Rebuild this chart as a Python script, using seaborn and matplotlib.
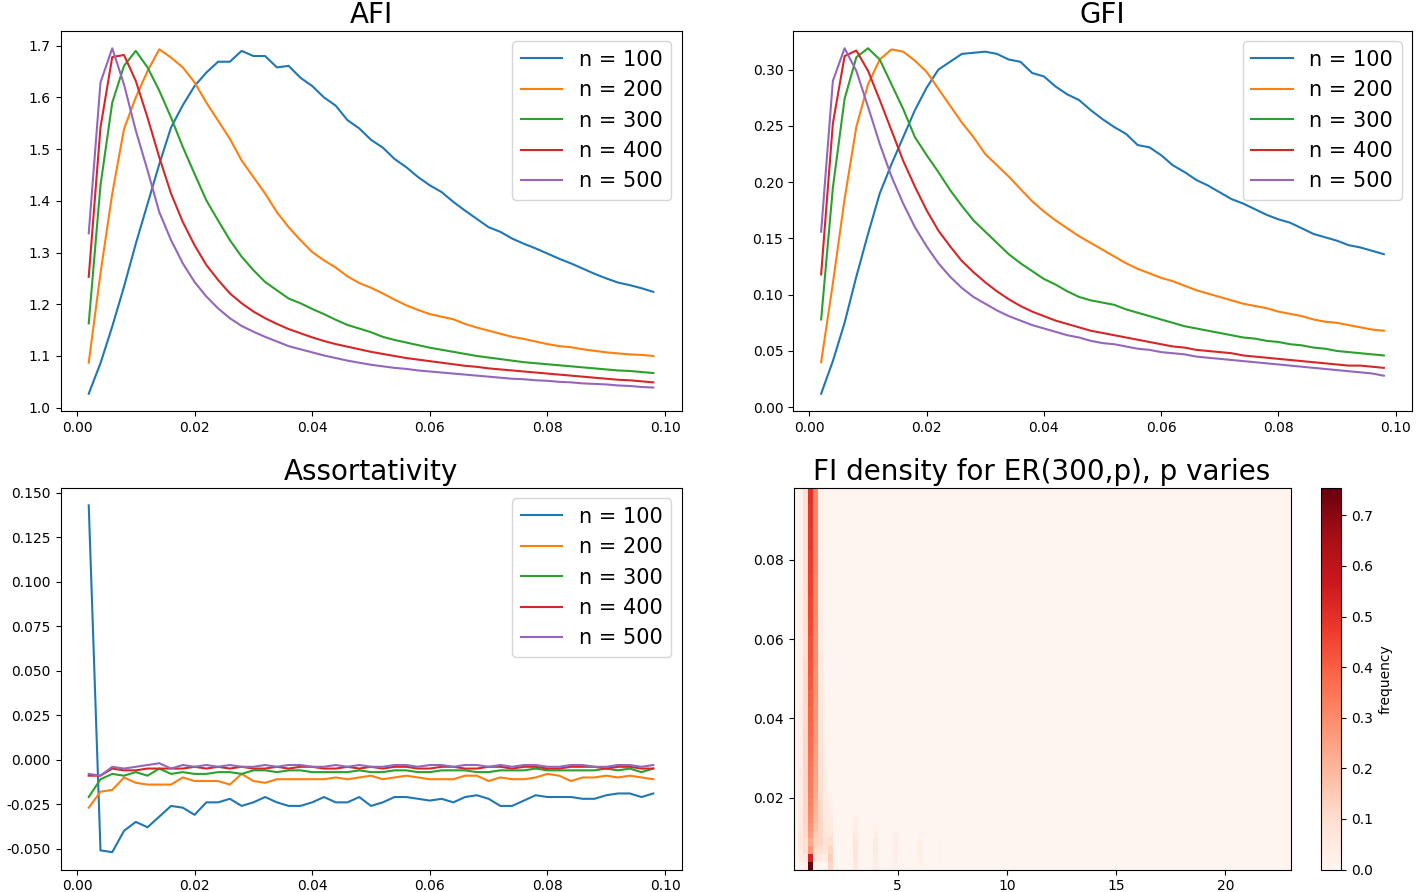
import numpy as np
import pandas as pd
import matplotlib
matplotlib.use('Agg')
import matplotlib.pyplot as plt
import seaborn as sns

plt.rcParams['axes.unicode_minus'] = False

# edge probability p (x axis of the three line charts)
p_values = [0.002, 0.004, 0.006, 0.008, 0.010, 0.012, 0.014, 0.016, 0.018, 0.020,
            0.022, 0.024, 0.026, 0.028, 0.030, 0.032, 0.034, 0.036, 0.038, 0.040,
            0.042, 0.044, 0.046, 0.048, 0.050, 0.052, 0.054, 0.056, 0.058, 0.060,
            0.062, 0.064, 0.066, 0.068, 0.070, 0.072, 0.074, 0.076, 0.078, 0.080,
            0.082, 0.084, 0.086, 0.088, 0.090, 0.092, 0.094, 0.096, 0.098]
n_values = [100, 200, 300, 400, 500]

# AFI
afi_100 = [1.027, 1.086, 1.157, 1.234, 1.317, 1.394, 1.471, 1.542, 1.585, 1.622,
           1.648, 1.669, 1.669, 1.690, 1.680, 1.680, 1.658, 1.661, 1.638, 1.622,
           1.600, 1.584, 1.556, 1.540, 1.518, 1.503, 1.481, 1.465, 1.446, 1.430,
           1.417, 1.398, 1.381, 1.365, 1.349, 1.340, 1.327, 1.317, 1.308, 1.298,
           1.288, 1.279, 1.269, 1.259, 1.250, 1.242, 1.237, 1.231, 1.224]
afi_200 = [1.087, 1.260, 1.414, 1.539, 1.600, 1.651, 1.693, 1.677, 1.658, 1.629,
           1.590, 1.555, 1.520, 1.478, 1.446, 1.414, 1.378, 1.349, 1.324, 1.301,
           1.285, 1.271, 1.254, 1.241, 1.232, 1.221, 1.209, 1.198, 1.189, 1.181,
           1.176, 1.171, 1.162, 1.155, 1.149, 1.143, 1.137, 1.133, 1.128, 1.123,
           1.119, 1.117, 1.113, 1.110, 1.107, 1.105, 1.103, 1.102, 1.100]
afi_300 = [1.163, 1.430, 1.590, 1.661, 1.690, 1.658, 1.613, 1.561, 1.504, 1.452,
           1.401, 1.362, 1.324, 1.292, 1.266, 1.243, 1.227, 1.211, 1.202, 1.191,
           1.181, 1.170, 1.160, 1.153, 1.146, 1.137, 1.131, 1.126, 1.121, 1.116,
           1.112, 1.108, 1.104, 1.100, 1.097, 1.094, 1.091, 1.088, 1.086, 1.084,
           1.082, 1.080, 1.078, 1.076, 1.074, 1.072, 1.071, 1.069, 1.067]
afi_400 = [1.253, 1.542, 1.678, 1.682, 1.632, 1.561, 1.484, 1.414, 1.359, 1.314,
           1.276, 1.247, 1.221, 1.202, 1.186, 1.173, 1.162, 1.152, 1.144, 1.136,
           1.129, 1.123, 1.118, 1.113, 1.108, 1.104, 1.100, 1.096, 1.093, 1.090,
           1.087, 1.084, 1.081, 1.079, 1.076, 1.074, 1.072, 1.070, 1.068, 1.066,
           1.064, 1.062, 1.060, 1.058, 1.056, 1.054, 1.053, 1.051, 1.049]
afi_500 = [1.337, 1.629, 1.695, 1.625, 1.536, 1.459, 1.378, 1.324, 1.279, 1.243,
           1.215, 1.192, 1.173, 1.158, 1.147, 1.137, 1.128, 1.119, 1.113, 1.107,
           1.101, 1.096, 1.091, 1.087, 1.083, 1.080, 1.077, 1.075, 1.072, 1.070,
           1.068, 1.066, 1.064, 1.062, 1.060, 1.058, 1.056, 1.055, 1.053, 1.052,
           1.050, 1.049, 1.047, 1.046, 1.045, 1.043, 1.042, 1.040, 1.039]

# GFI
gfi_100 = [0.012, 0.041, 0.075, 0.116, 0.154, 0.190, 0.216, 0.240, 0.264, 0.284,
           0.300, 0.307, 0.314, 0.315, 0.316, 0.314, 0.309, 0.307, 0.297, 0.294,
           0.285, 0.278, 0.273, 0.264, 0.256, 0.249, 0.243, 0.233, 0.231, 0.224,
           0.215, 0.209, 0.202, 0.197, 0.191, 0.185, 0.181, 0.176, 0.171, 0.167,
           0.164, 0.159, 0.154, 0.151, 0.148, 0.144, 0.142, 0.139, 0.136]
gfi_200 = [0.040, 0.110, 0.185, 0.249, 0.287, 0.309, 0.318, 0.316, 0.308, 0.298,
           0.283, 0.268, 0.253, 0.240, 0.225, 0.215, 0.205, 0.194, 0.183, 0.174,
           0.166, 0.159, 0.152, 0.146, 0.140, 0.134, 0.128, 0.123, 0.119, 0.115,
           0.112, 0.108, 0.104, 0.101, 0.098, 0.095, 0.092, 0.090, 0.088, 0.085,
           0.083, 0.081, 0.078, 0.076, 0.075, 0.073, 0.071, 0.069, 0.068]
gfi_300 = [0.078, 0.195, 0.274, 0.311, 0.319, 0.309, 0.287, 0.265, 0.240, 0.224,
           0.209, 0.193, 0.179, 0.166, 0.156, 0.146, 0.136, 0.128, 0.121, 0.114,
           0.109, 0.103, 0.098, 0.095, 0.093, 0.091, 0.087, 0.084, 0.081, 0.078,
           0.075, 0.072, 0.070, 0.068, 0.066, 0.064, 0.062, 0.061, 0.059, 0.058,
           0.056, 0.055, 0.053, 0.052, 0.050, 0.049, 0.048, 0.047, 0.046]
gfi_400 = [0.118, 0.252, 0.312, 0.317, 0.299, 0.273, 0.246, 0.219, 0.196, 0.175,
           0.157, 0.143, 0.130, 0.120, 0.111, 0.103, 0.096, 0.090, 0.085, 0.081,
           0.077, 0.074, 0.071, 0.068, 0.066, 0.064, 0.062, 0.060, 0.058, 0.056,
           0.054, 0.053, 0.051, 0.050, 0.049, 0.048, 0.046, 0.045, 0.044, 0.043,
           0.042, 0.041, 0.040, 0.039, 0.038, 0.037, 0.037, 0.036, 0.035]
gfi_500 = [0.156, 0.290, 0.319, 0.299, 0.267, 0.234, 0.205, 0.181, 0.160, 0.143,
           0.128, 0.116, 0.106, 0.098, 0.092, 0.086, 0.081, 0.077, 0.073, 0.070,
           0.067, 0.064, 0.062, 0.059, 0.057, 0.056, 0.054, 0.052, 0.051, 0.049,
           0.048, 0.047, 0.045, 0.044, 0.043, 0.042, 0.041, 0.040, 0.039, 0.038,
           0.037, 0.036, 0.035, 0.034, 0.033, 0.032, 0.031, 0.030, 0.028]

# Assortativity
assort_100 = [0.143, -0.051, -0.052, -0.040, -0.035, -0.038, -0.032, -0.026, -0.027, -0.031,
              -0.024, -0.024, -0.022, -0.026, -0.024, -0.021, -0.024, -0.026, -0.026, -0.024,
              -0.021, -0.024, -0.024, -0.021, -0.026, -0.024, -0.021, -0.021, -0.022, -0.023,
              -0.022, -0.024, -0.021, -0.020, -0.022, -0.026, -0.026, -0.023, -0.020, -0.021,
              -0.021, -0.021, -0.022, -0.022, -0.020, -0.019, -0.019, -0.021, -0.019]
assort_200 = [-0.027, -0.018, -0.017, -0.010, -0.013, -0.014, -0.014, -0.014, -0.010, -0.012,
              -0.012, -0.012, -0.014, -0.008, -0.012, -0.013, -0.011, -0.011, -0.011, -0.011,
              -0.011, -0.010, -0.011, -0.010, -0.009, -0.011, -0.010, -0.009, -0.010, -0.011,
              -0.011, -0.011, -0.009, -0.009, -0.012, -0.010, -0.011, -0.011, -0.010, -0.008,
              -0.009, -0.012, -0.010, -0.010, -0.009, -0.010, -0.009, -0.010, -0.011]
assort_300 = [-0.021, -0.011, -0.008, -0.009, -0.007, -0.009, -0.005, -0.008, -0.007, -0.008,
              -0.008, -0.007, -0.007, -0.008, -0.006, -0.006, -0.007, -0.006, -0.006, -0.007,
              -0.007, -0.007, -0.007, -0.006, -0.007, -0.007, -0.006, -0.006, -0.007, -0.007,
              -0.006, -0.006, -0.006, -0.007, -0.007, -0.006, -0.006, -0.006, -0.005, -0.006,
              -0.006, -0.006, -0.006, -0.006, -0.005, -0.006, -0.005, -0.007, -0.005]
assort_400 = [-0.009, -0.009, -0.005, -0.006, -0.006, -0.005, -0.005, -0.005, -0.005, -0.004,
              -0.005, -0.004, -0.005, -0.004, -0.005, -0.005, -0.004, -0.005, -0.004, -0.004,
              -0.005, -0.005, -0.004, -0.005, -0.004, -0.005, -0.004, -0.004, -0.005, -0.005,
              -0.004, -0.004, -0.005, -0.005, -0.004, -0.004, -0.005, -0.004, -0.004, -0.005,
              -0.005, -0.004, -0.004, -0.004, -0.005, -0.004, -0.004, -0.005, -0.005]
assort_500 = [-0.008, -0.009, -0.004, -0.005, -0.004, -0.003, -0.002, -0.005, -0.003, -0.004,
              -0.003, -0.004, -0.003, -0.004, -0.004, -0.003, -0.004, -0.003, -0.003, -0.004,
              -0.004, -0.003, -0.004, -0.003, -0.004, -0.004, -0.003, -0.003, -0.004, -0.003,
              -0.003, -0.004, -0.003, -0.003, -0.004, -0.003, -0.004, -0.003, -0.003, -0.004,
              -0.004, -0.003, -0.003, -0.004, -0.004, -0.003, -0.003, -0.004, -0.003]

# FI density for ER(300, p): histogram of FI values, 100 bins over [fi_min, fi_max]
fi_min, fi_max, fi_bins = 0.23, 22.98, 100
p_min, p_max = 0.002, 0.098
# frequency per p (rows, p = 0.002 ... 0.098) for the bins near FI = 1
freq_fi_057 = [0.01, 0.03, 0.05, 0.06, 0.06, 0.05, 0.05, 0.05, 0.04, 0.04,
               0.04, 0.04, 0.04, 0.03, 0.03, 0.03, 0.03, 0.03, 0.03, 0.03,
               0.03, 0.02, 0.02, 0.02, 0.02, 0.02, 0.02, 0.02, 0.02, 0.02,
               0.02, 0.02, 0.02, 0.02, 0.02, 0.02, 0.01, 0.01, 0.01, 0.01,
               0.01, 0.01, 0.01, 0.01, 0.01, 0.01, 0.01, 0.01, 0.01]
freq_fi_080 = [0.02, 0.05, 0.09, 0.10, 0.11, 0.11, 0.12, 0.12, 0.12, 0.12,
               0.12, 0.12, 0.12, 0.12, 0.12, 0.12, 0.12, 0.12, 0.11, 0.11,
               0.11, 0.11, 0.11, 0.11, 0.11, 0.11, 0.11, 0.10, 0.10, 0.10,
               0.10, 0.10, 0.10, 0.10, 0.10, 0.10, 0.10, 0.10, 0.09, 0.09,
               0.09, 0.09, 0.09, 0.09, 0.09, 0.09, 0.09, 0.09, 0.09]
freq_fi_103 = [0.754, 0.54, 0.27, 0.23, 0.26, 0.28, 0.30, 0.31, 0.32, 0.33,
               0.34, 0.34, 0.35, 0.35, 0.36, 0.37, 0.37, 0.38, 0.38, 0.39,
               0.39, 0.40, 0.40, 0.41, 0.41, 0.42, 0.42, 0.43, 0.43, 0.43,
               0.44, 0.44, 0.45, 0.45, 0.45, 0.46, 0.46, 0.46, 0.47, 0.47,
               0.47, 0.48, 0.48, 0.48, 0.49, 0.49, 0.49, 0.50, 0.50]
freq_fi_125 = [0.00, 0.07, 0.11, 0.13, 0.15, 0.17, 0.19, 0.20, 0.21, 0.22,
               0.23, 0.23, 0.24, 0.24, 0.25, 0.25, 0.26, 0.26, 0.26, 0.27,
               0.27, 0.27, 0.28, 0.28, 0.28, 0.28, 0.29, 0.29, 0.29, 0.29,
               0.29, 0.30, 0.30, 0.30, 0.30, 0.30, 0.30, 0.30, 0.31, 0.31,
               0.31, 0.31, 0.31, 0.31, 0.31, 0.31, 0.31, 0.31, 0.31]
freq_fi_148 = [0.00, 0.05, 0.10, 0.12, 0.12, 0.12, 0.12, 0.11, 0.11, 0.10,
               0.10, 0.10, 0.09, 0.09, 0.09, 0.08, 0.08, 0.08, 0.07, 0.07,
               0.07, 0.06, 0.06, 0.06, 0.05, 0.05, 0.05, 0.05, 0.04, 0.04,
               0.04, 0.04, 0.04, 0.03, 0.03, 0.03, 0.03, 0.03, 0.03, 0.03,
               0.02, 0.02, 0.02, 0.02, 0.02, 0.02, 0.02, 0.02, 0.02]
freq_fi_171 = [0.00, 0.03, 0.07, 0.08, 0.07, 0.06, 0.05, 0.05, 0.04, 0.04,
               0.03, 0.03, 0.03, 0.02, 0.02, 0.02, 0.02, 0.01, 0.01, 0.01,
               0.01, 0.01, 0.01, 0.01, 0.00, 0.00, 0.00, 0.00, 0.00, 0.00,
               0.00, 0.00, 0.00, 0.00, 0.00, 0.00, 0.00, 0.00, 0.00, 0.00,
               0.00, 0.00, 0.00, 0.00, 0.00, 0.00, 0.00, 0.00, 0.00]
# integer FI bands that only show up for the sparsest graphs (lowest p rows)
band_fi_2 = [0.12, 0.14, 0.12, 0.10, 0.07, 0.05, 0.04, 0.03, 0.02, 0.01]
band_fi_3 = [0.05, 0.07, 0.08, 0.07, 0.05, 0.03, 0.02]
band_fi_4 = [0.03, 0.04, 0.05, 0.05, 0.03, 0.02]
band_fi_5 = [0.02, 0.03, 0.04, 0.03, 0.02]
band_fi_6 = [0.01, 0.02, 0.02, 0.02, 0.01]
band_fi_7 = [0.00, 0.01, 0.01, 0.01]


def fi_bin(v):
    return int((v - fi_min) / ((fi_max - fi_min) / fi_bins))


# build the density table
density = np.zeros((len(p_values), fi_bins))
for fi, col in [(0.57, freq_fi_057), (0.80, freq_fi_080), (1.03, freq_fi_103),
                (1.25, freq_fi_125), (1.48, freq_fi_148), (1.71, freq_fi_171)]:
    density[:, fi_bin(fi)] = col
for fi, band in [(2, band_fi_2), (3, band_fi_3), (4, band_fi_4),
                 (5, band_fi_5), (6, band_fi_6), (7, band_fi_7)]:
    density[:len(band), fi_bin(fi)] += band

# long form data for the line charts
series = {'AFI': [afi_100, afi_200, afi_300, afi_400, afi_500],
          'GFI': [gfi_100, gfi_200, gfi_300, gfi_400, gfi_500],
          'Assortativity': [assort_100, assort_200, assort_300, assort_400, assort_500]}
rows = []
for metric, lists in series.items():
    for n, vals in zip(n_values, lists):
        for p, v in zip(p_values, vals):
            rows.append({'metric': metric, 'label': f'n = {n}', 'p': p, 'value': v})
df = pd.DataFrame(rows)

fig = plt.figure(figsize=(14.16, 8.92), dpi=100)
W, H = 1416, 892


def box(x0, y0, x1, y1):
    return [x0 / W, 1 - y1 / H, (x1 - x0) / W, (y1 - y0) / H]


ax_afi = fig.add_axes(box(60.5, 31, 681.5, 411))
ax_gfi = fig.add_axes(box(793, 31, 1412, 411))
ax_as = fig.add_axes(box(60.5, 488, 681.5, 869.5))
ax_hm = fig.add_axes(box(793.5, 488, 1290.5, 869.5))
cax = fig.add_axes(box(1321, 488, 1341, 869.5))

palette = sns.color_palette('tab10', 5)
for ax, metric in [(ax_afi, 'AFI'), (ax_gfi, 'GFI'), (ax_as, 'Assortativity')]:
    sns.lineplot(data=df[df['metric'] == metric], x='p', y='value', hue='label',
                 palette=palette, estimator=None, linewidth=1.5, ax=ax)
    ax.set_xlabel('')
    ax.set_ylabel('')
    ax.set_title(metric, fontsize=20)
    ax.set_xticks([0.0, 0.02, 0.04, 0.06, 0.08, 0.10])
    ax.tick_params(labelsize=10)
    ax.legend(loc='upper right', fontsize=15)

# heatmap
sns.heatmap(density, cmap='Reds', vmin=0, vmax=density.max(), ax=ax_hm, cbar_ax=cax,
            cbar_kws={'label': 'frequency'}, xticklabels=False, yticklabels=False)
ax_hm.invert_yaxis()
for s in ax_hm.spines.values():
    s.set_visible(True)
    s.set_linewidth(0.8)
bin_w = (fi_max - fi_min) / fi_bins
row_h = (p_max - p_min) / len(p_values)
fi_ticks = [5, 10, 15, 20]
p_ticks = [0.02, 0.04, 0.06, 0.08]
ax_hm.set_xticks([(v - fi_min) / bin_w for v in fi_ticks])
ax_hm.set_xticklabels([str(v) for v in fi_ticks], rotation=0)
ax_hm.set_yticks([(v - p_min) / row_h for v in p_ticks])
ax_hm.set_yticklabels([f'{v:.2f}' for v in p_ticks], rotation=0)
ax_hm.tick_params(labelsize=10, length=3.5, width=0.8)
ax_hm.set_title('FI density for ER(300,p), p varies', fontsize=20)
cb = ax_hm.collections[0].colorbar
cb.outline.set_linewidth(0.8)
cb.ax.tick_params(labelsize=10)
cb.set_label('frequency', fontsize=10)

fig.savefig('out.png', dpi=100)
